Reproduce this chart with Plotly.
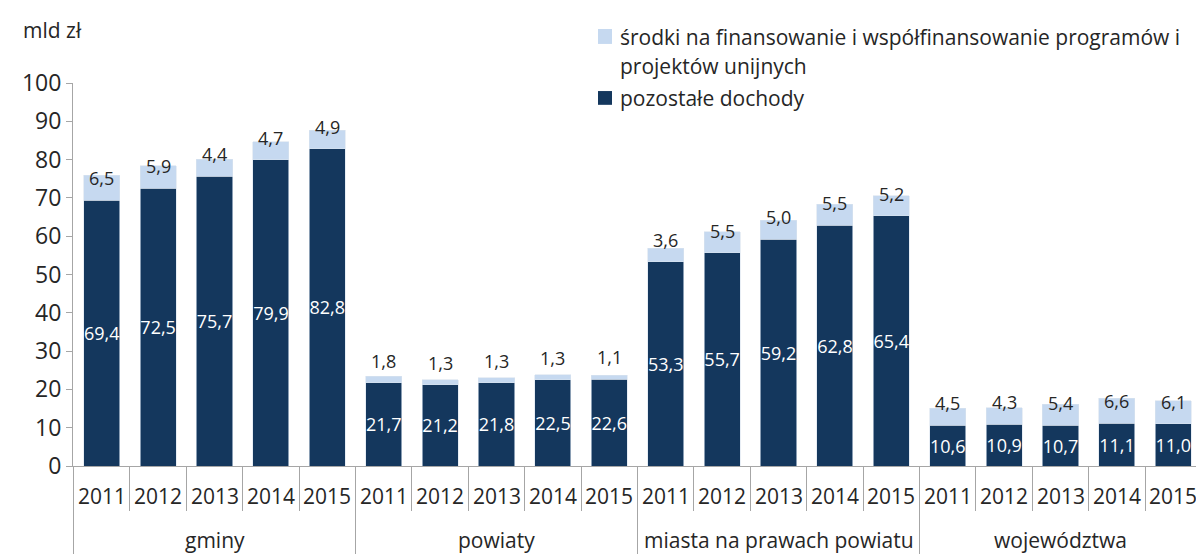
import plotly.graph_objects as go

groups = ["gminy", "powiaty", "miasta na prawach powiatu", "województwa"]
years = ["2011", "2012", "2013", "2014", "2015"]

pozostale = {
    "gminy": [69.4, 72.5, 75.7, 79.9, 82.8],
    "powiaty": [21.7, 21.2, 21.8, 22.5, 22.6],
    "miasta na prawach powiatu": [53.3, 55.7, 59.2, 62.8, 65.4],
    "województwa": [10.6, 10.9, 10.7, 11.1, 11.0],
}
unijne = {
    "gminy": [6.5, 5.9, 4.4, 4.7, 4.9],
    "powiaty": [1.8, 1.3, 1.3, 1.3, 1.1],
    "miasta na prawach powiatu": [3.6, 5.5, 5.0, 5.5, 5.2],
    "województwa": [4.5, 4.3, 5.4, 6.6, 6.1],
}

legend_unijne = "środki na finansowanie i współfinansowanie programów i"
legend_unijne_2 = "projektów unijnych"
legend_pozostale = "pozostałe dochody"
y_title = "mld zł"

DARK = "#14375D"
LIGHT = "#C6D9F0"
TEXT = "#262626"
AXIS = "#A6A6A6"
FONT = "Open Sans"

x_grp, x_yr, dark_vals, light_vals = [], [], [], []
for g in groups:
    for i, y in enumerate(years):
        x_grp.append(g)
        x_yr.append(y)
        dark_vals.append(pozostale[g][i])
        light_vals.append(unijne[g][i])


def fmt(v):
    return f"{v:.1f}".replace(".", ",")


fig = go.Figure()
fig.add_trace(go.Bar(
    x=[x_grp, x_yr], y=dark_vals, marker=dict(color=DARK, line=dict(width=0.6, color="#D8E2EE")),
    text=[fmt(v) for v in dark_vals], textposition="inside", insidetextanchor="middle",
    textangle=0, constraintext="none",
    textfont=dict(color="white", size=18, family=FONT), showlegend=False,
))
fig.add_trace(go.Bar(
    x=[x_grp, x_yr], y=light_vals, marker=dict(color=LIGHT, line=dict(width=0.6, color="#D8E2EE")),
    showlegend=False,
))

annotations = []
shapes = []
for i, (d, l) in enumerate(zip(dark_vals, light_vals)):
    annotations.append(dict(
        x=i, y=d, xref="x", yref="y", text=fmt(l), showarrow=False,
        yshift=22, yanchor="middle", font=dict(size=18, color=TEXT, family=FONT),
    ))
    # year labels
    annotations.append(dict(
        x=i, y=-0.078, xref="x", yref="paper", text=x_yr[i], showarrow=False,
        yanchor="middle", font=dict(size=21, color=TEXT, family=FONT),
    ))

# group labels and group separators
per = len(years)
for gi, g in enumerate(groups):
    annotations.append(dict(
        x=gi * per + (per - 1) / 2, y=-0.192, xref="x", yref="paper", text=g,
        showarrow=False, yanchor="middle", font=dict(size=21, color=TEXT, family=FONT),
    ))
for k in range(len(groups) + 1):
    shapes.append(dict(
        type="line", xref="x", yref="paper", x0=k * per - 0.5, x1=k * per - 0.5,
        y0=0, y1=-0.3, line=dict(color=AXIS, width=1),
    ))

annotations.append(dict(
    x=-0.046, y=1.138, xref="paper", yref="paper", xanchor="left", yanchor="middle",
    text=y_title, showarrow=False, font=dict(size=21, color=TEXT, family=FONT),
))
# manual legend
annotations += [
    dict(x=0.4827, y=1.120, xref="paper", yref="paper", xanchor="left", yanchor="middle",
         text=legend_unijne, showarrow=False, font=dict(size=21, color=TEXT, family=FONT)),
    dict(x=0.4827, y=1.044, xref="paper", yref="paper", xanchor="left", yanchor="middle",
         text=legend_unijne_2, showarrow=False, font=dict(size=21, color=TEXT, family=FONT)),
    dict(x=0.4827, y=0.961, xref="paper", yref="paper", xanchor="left", yanchor="middle",
         text=legend_pozostale, showarrow=False, font=dict(size=21, color=TEXT, family=FONT)),
]
shapes += [
    dict(type="rect", xref="paper", yref="paper", x0=0.465, x1=0.4774, y0=1.102, y1=1.141,
         fillcolor=LIGHT, line=dict(width=0)),
    dict(type="rect", xref="paper", yref="paper", x0=0.465, x1=0.4774, y0=0.943, y1=0.979,
         fillcolor=DARK, line=dict(width=0)),
]

fig.update_layout(
    barmode="stack", bargap=0.36,
    width=1204, height=554,
    margin=dict(l=65, r=10, t=75, b=96),
    paper_bgcolor="white", plot_bgcolor="white",
    font=dict(family=FONT, color=TEXT),
    annotations=annotations, shapes=shapes,
    xaxis=dict(
        type="multicategory", showline=True, linecolor=AXIS, linewidth=1,
        ticks="outside", tickson="boundaries", ticklen=44, tickcolor=AXIS,
        showticklabels=False, showdividers=False, showgrid=False,
    ),
    yaxis=dict(
        range=[0, 100], dtick=10, showline=True, linecolor=AXIS, linewidth=1,
        ticks="outside", ticklen=6, tickcolor=AXIS, showgrid=False, zeroline=False,
        tickfont=dict(size=23, color=TEXT, family=FONT),
    ),
)

fig.write_html("out.html")
